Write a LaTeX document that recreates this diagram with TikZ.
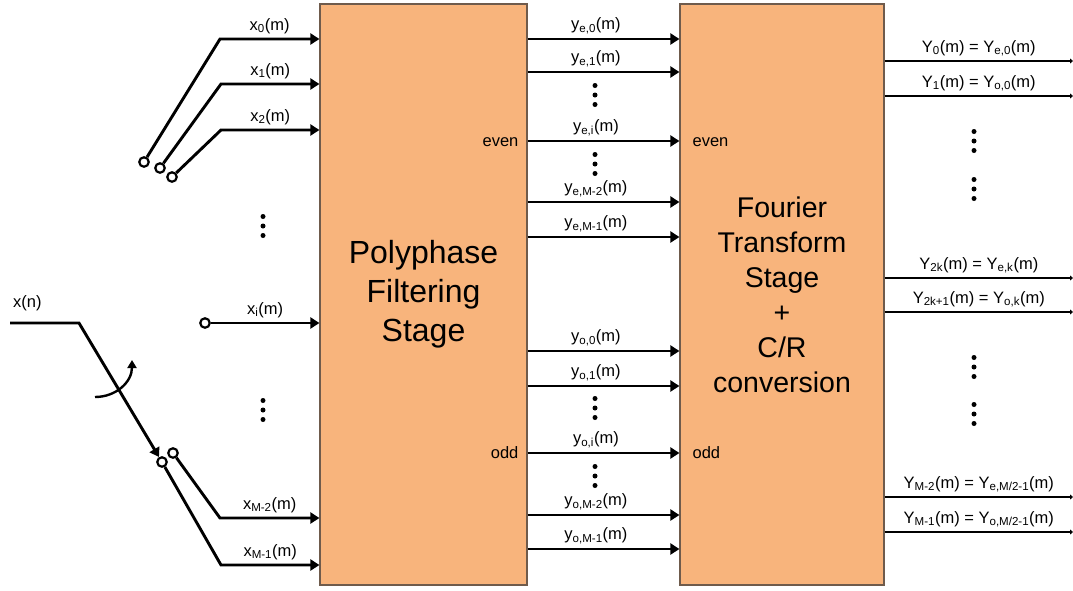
\documentclass[tikz,border=0pt]{standalone}
\usepackage{fontspec}
\setmainfont{Liberation Sans}
\usetikzlibrary{arrows.meta, positioning, calc}
\definecolor{stagefill}{HTML}{F8B47C}
\definecolor{stageline}{HTML}{6F5B4C}

\begin{document}
\begin{tikzpicture}[x=1pt, y=-1pt, font=\fontsize{16.5}{19.8}\selectfont,
    stagebox/.style={rectangle, draw=stageline, fill=stagefill, line width=1.2pt, minimum height=581pt, inner sep=0pt, align=center},
    sigarrow/.style={-{Triangle[length=9pt, width=11pt]}, line width=2.9pt},
    outarrow/.style={-{Triangle[length=3pt, width=5pt]}, line width=1.2pt},
    contact/.style={circle, draw, fill=white, line width=2.2pt, minimum size=9.5pt, inner sep=0pt},
    siglabel/.style={anchor=south, inner sep=1pt, yshift=3pt},
    portlabel/.style={inner sep=0pt, yshift=-3pt}]
  \useasboundingbox (0,0) rectangle (1073,590);

  % the two stages
  \node [stagebox, minimum width=207pt, font=\fontsize{32}{39}\selectfont] (pfs) at (423.5,294.5) {Polyphase\\Filtering\\Stage};
  \node [stagebox, minimum width=204pt, font=\fontsize{28.5}{35}\selectfont] (fts) at (782,294.5) {Fourier\\Transform\\Stage\\+\\C/R\\conversion};

  % commutator contacts and inputs
  \foreach \n/\cx/\cy/\kx/\ky/\idx in {0/144/162/220/39/0, 1/160/168/221/84/1, 2/172/177/221/130/2, M2/173/453/220/518/{M-2}, M1/162/462/221/565/{M-1}} {
    \node [contact] (c\n) at (\cx,\cy) {};
    \coordinate (k\n) at (\kx,\ky);
    \draw [sigarrow] (c\n) -- (k\n) -- (k\n -| pfs.west) node [siglabel, midway] {x\textsubscript{\idx}(m)};
  }
  \node [contact] (ci) at (205,323) {};
  \draw [sigarrow] (ci) -- (ci -| pfs.west) node [siglabel, midway] {x\textsubscript{i}(m)};

  % input signal and switch
  \coordinate (xin) at (10,323);
  \coordinate (sw) at (79,323);
  \draw [sigarrow] (xin) -- (sw) -- (cM1);
  \node [siglabel, anchor=south west, inner sep=3pt, yshift=6pt] (xnlbl) at (xin) {x(n)};
  \coordinate (rotA) at (95,397);
  \coordinate (rotB) at (132,360);
  \draw [-{Triangle[length=8pt, width=9pt]}, line width=2.4pt] (rotA) .. controls (116,397) and (132,382) .. (rotB);

  % even / odd branches
  \foreach \yy/\idx [count=\i] in {39/{e,0}, 72/{e,1}, 141/{e,i}, 202/{e,M-2}, 237/{e,M-1}, 351/{o,0}, 386/{o,1}, 453/{o,i}, 515/{o,M-2}, 549/{o,M-1}} {
    \coordinate (yb\i) at (600,\yy);
    \draw [sigarrow] (pfs.east |- yb\i) -- (fts.west |- yb\i) node [siglabel, pos=0.45] {y\textsubscript{\idx}(m)};
  }
  \node [portlabel, anchor=mid east, xshift=-9pt] (evenout) at (pfs.east |- yb3) {even};
  \node [portlabel, anchor=mid east, xshift=-9pt] (oddout) at (pfs.east |- yb8) {odd};
  \node [portlabel, anchor=mid west, xshift=13pt] (evenin) at (fts.west |- yb3) {even};
  \node [portlabel, anchor=mid west, xshift=13pt] (oddin) at (fts.west |- yb8) {odd};

  % outputs
  \foreach \yy/\lbl [count=\i] in {61/{Y\textsubscript{0}(m) = Y\textsubscript{e,0}(m)}, 96/{Y\textsubscript{1}(m) = Y\textsubscript{o,0}(m)}, 278/{Y\textsubscript{2k}(m) = Y\textsubscript{e,k}(m)}, 312/{Y\textsubscript{2k+1}(m) = Y\textsubscript{o,k}(m)}, 497/{Y\textsubscript{M-2}(m) = Y\textsubscript{e,M/2-1}(m)}, 532/{Y\textsubscript{M-1}(m) = Y\textsubscript{o,M/2-1}(m)}} {
    \coordinate (out\i) at (1073,\yy);
    \draw [outarrow] (fts.east |- out\i) -- (out\i) node [siglabel, midway] {\lbl};
  }

  % continuation dots
  \foreach \dx/\dy in {263/226, 263/410, 595/95, 595/164, 595/408, 595/476, 974/141, 974/189, 974/367, 974/414}
    \foreach \s in {-9.5,0,9.5}
      \fill (\dx,\dy+\s) circle (2.5pt);
\end{tikzpicture}
\end{document}
